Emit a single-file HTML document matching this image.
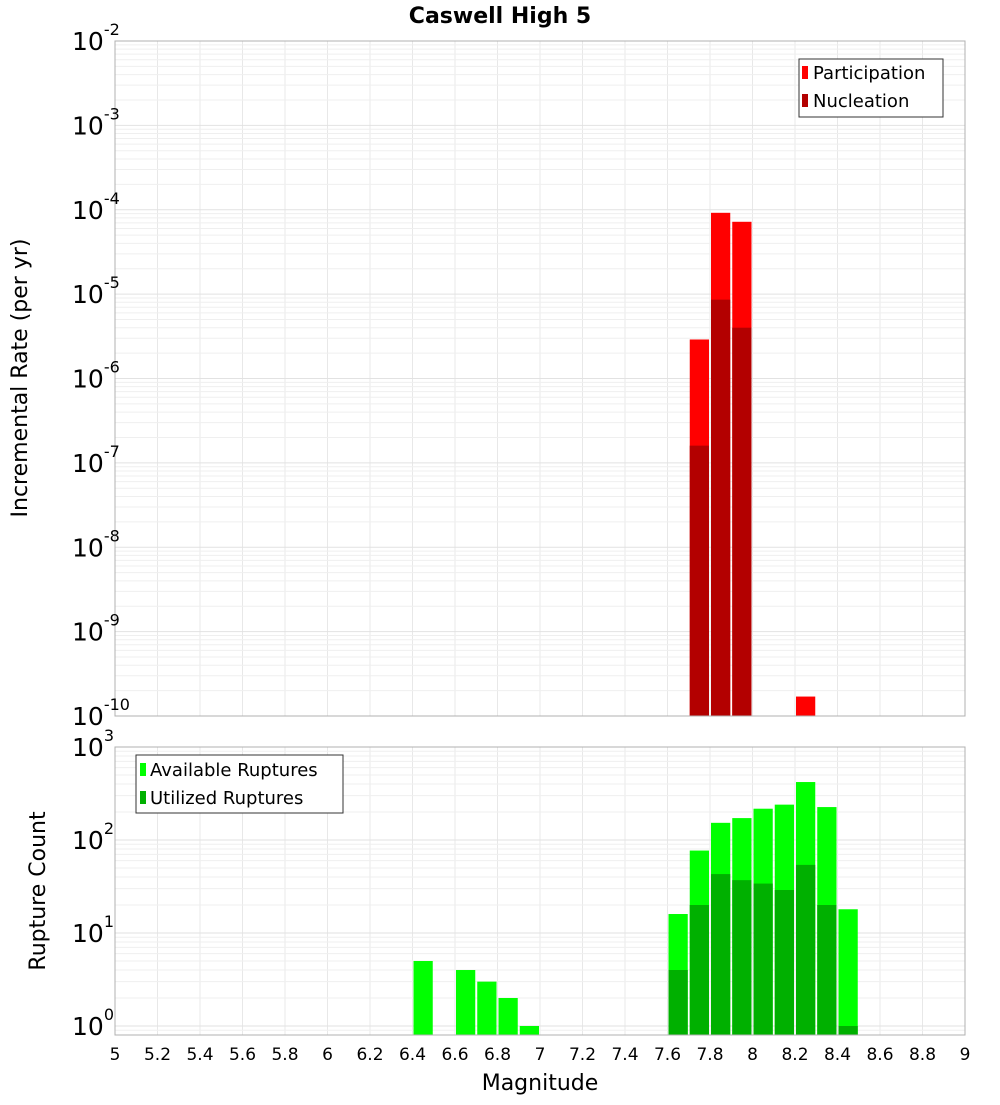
<!DOCTYPE html>
<html><head><meta charset="utf-8"><style>
body{margin:0;background:#fff}
svg text{font-family:"DejaVu Sans","Liberation Sans",sans-serif}
</style></head><body>
<svg id="c" width="1000" height="1100" xmlns="http://www.w3.org/2000/svg"></svg>
<script>
const mags = [7.75, 7.85, 7.95, 8.25];
const participation = [2.9e-6, 9.2e-5, 7.2e-5, 1.7e-10];
const nucleation = [1.6e-7, 8.6e-6, 4.0e-6, 0];
const ruptMags = [6.45, 6.65, 6.75, 6.85, 6.95, 7.65, 7.75, 7.85, 7.95, 8.05, 8.15, 8.25, 8.35, 8.45];
const available = [5, 4, 3, 2, 1, 16, 77, 153, 172, 217, 240, 420, 226, 18];
const utilized = [0, 0, 0, 0, 0, 4, 20, 43, 37, 34, 29, 54, 20, 1];
const xTicks = ["5","5.2","5.4","5.6","5.8","6","6.2","6.4","6.6","6.8","7","7.2","7.4","7.6","7.8","8","8.2","8.4","8.6","8.8","9"];
const topExp = [-2,-3,-4,-5,-6,-7,-8,-9,-10];
const botExp = [3,2,1,0];

const svg = document.getElementById('c');
const NS = 'http://www.w3.org/2000/svg';
function mk(tag, attrs, parent){const e=document.createElementNS(NS,tag);for(const k in attrs)e.setAttribute(k,attrs[k]);(parent||svg).appendChild(e);return e;}
const X0=115,X1=965;
const x = m => X0 + (m-5)/(9-5)*(X1-X0);
const T0=41,T1=716, B0=747,B1=1035;
const yTop = v => T0 + (-2 - Math.log10(v))*(T1-T0)/8;
const yBot = v => 1026 - Math.log10(v)*93;

function grid(y0,y1,yf,eMin,eMax){
  const g=mk('g',{});
  
  
  for(let i=0;i<xTicks.length;i++){const xx=x(+xTicks[i]);mk('line',{x1:xx,x2:xx,y1:y0,y2:y1,stroke:'#e8e8e8','stroke-width':1},g);}
  for(let e=eMin;e<=eMax;e++)for(let k=1;k<10;k++){const yy=yf(k*Math.pow(10,e));if(yy>=y0&&yy<=y1)mk('line',{x1:X0,x2:X1,y1:yy,y2:yy,stroke:k==1?'#e2e2e2':'#efefef','stroke-width':1},g);}
}
grid(T0,T1,yTop,-10,-3);
grid(B0,B1,yBot,-1,2);

function bars(ms,vals,yf,ybase,color,name){
  const g=mk('g',{});
  
  
  ms.forEach((m,i)=>{if(!(vals[i]>0))return;const yy=Math.max(yf(vals[i]),0);
    const r=mk('rect',{x:x(m-0.05)+1,y:yy,width:x(m+0.05)-x(m-0.05)-2,height:ybase-yy,fill:color},g);
    
    });
}
bars(mags,participation,yTop,T1,'#ff0000','participation');
bars(mags,nucleation,yTop,T1,'#b30000','nucleation');
bars(ruptMags,available,yBot,B1,'#00ff00','available');
bars(ruptMags,utilized,yBot,B1,'#00b000','utilized');

mk('rect',{x:X0,y:T0,width:X1-X0,height:T1-T0,fill:'none',stroke:'#b0b0b0','stroke-width':1,});
mk('rect',{x:X0,y:B0,width:X1-X0,height:B1-B0,fill:'none',stroke:'#b0b0b0','stroke-width':1,});

function ylab(e,yy,name){
  const t=mk('text',{x:72,y:yy+9,'font-size':25,fill:'#000'});
  
  
  t.textContent='10';
  const s=mk('tspan',{dy:-15,'font-size':16},t);s.textContent=String(e);
}
topExp.forEach(e=>ylab(e,yTop(Math.pow(10,e)),'y-tick-label'));
botExp.forEach(e=>ylab(e,yBot(Math.pow(10,e)),'y2-tick-label'));
xTicks.forEach(v=>{const t=mk('text',{x:x(+v),y:1060,'font-size':17,'text-anchor':'middle',fill:'#000'});
  
  
  t.textContent=v;});
</script>
<svg style="position:absolute;left:0;top:0" width="1000" height="1100">
<text x="500" y="23" font-size="22" font-weight="bold" text-anchor="middle" font-family="DejaVu Sans, Liberation Sans, sans-serif">Caswell High 5</text>
<text transform="translate(27,378) rotate(-90)" font-size="22" text-anchor="middle" font-family="DejaVu Sans, Liberation Sans, sans-serif">Incremental Rate (per yr)</text>
<text transform="translate(45,891) rotate(-90)" font-size="22" text-anchor="middle" font-family="DejaVu Sans, Liberation Sans, sans-serif">Rupture Count</text>
<text x="540" y="1090" font-size="22" text-anchor="middle" font-family="DejaVu Sans, Liberation Sans, sans-serif">Magnitude</text>
<g font-family="DejaVu Sans, Liberation Sans, sans-serif" font-size="18">
<rect x="799" y="59" width="144" height="58" fill="#fff" stroke="#333"/>
<rect x="802" y="66" width="6" height="13" fill="#ff0000"/><text x="813" y="79">Participation</text>
<rect x="802" y="94" width="6" height="13" fill="#b30000"/><text x="813" y="107">Nucleation</text>
</g>
<g font-family="DejaVu Sans, Liberation Sans, sans-serif" font-size="18">
<rect x="136" y="755" width="207" height="58" fill="#fff" stroke="#333"/>
<rect x="140" y="763" width="6" height="13" fill="#00ff00"/><text x="150" y="776">Available Ruptures</text>
<rect x="140" y="791" width="6" height="13" fill="#00b000"/><text x="150" y="804">Utilized Ruptures</text>
</g>
</svg>
</body></html>
